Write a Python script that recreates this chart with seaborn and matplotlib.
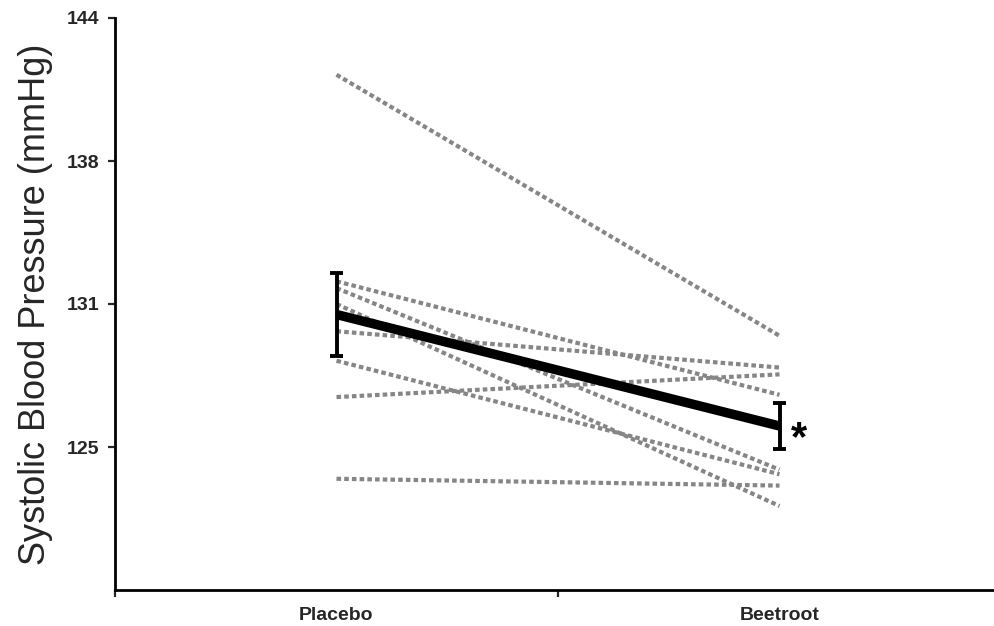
import numpy as np
import pandas as pd
import matplotlib
matplotlib.use("Agg")
import matplotlib.pyplot as plt
import seaborn as sns
from matplotlib.ticker import FixedLocator, FuncFormatter

# Systolic blood pressure (mmHg) per participant under each condition
conditions = ["Placebo", "Beetroot"]
participants = ["S1", "S2", "S3", "S4", "S5", "S6", "S7", "S8"]
placebo_sbp = [141.5, 132.4, 132.1, 131.4, 130.2, 128.9, 127.3, 123.7]
beetroot_sbp = [130.0, 127.4, 124.1, 122.5, 128.6, 123.9, 128.3, 123.4]

y_ticks = [125.1, 131.4, 137.7, 144.0]
y_range = (118.8, 144.0)

df = pd.DataFrame({
    "subject": participants * 2,
    "condition": [conditions[0]] * len(participants) + [conditions[1]] * len(participants),
    "sbp": placebo_sbp + beetroot_sbp,
})

sns.set_style("ticks")
plt.rcParams["font.family"] = ["Liberation Sans", "DejaVu Sans"]

fig = plt.figure(figsize=(9.94, 6.26), dpi=100)
ax = fig.add_axes([115 / 994, 1 - 590 / 626, 886 / 994, (590 - 18) / 626])

# individual participants: grey dotted lines
sns.lineplot(data=df, x="condition", y="sbp", units="subject", estimator=None,
             color="#868686", linewidth=3.0, linestyle=(0, (1.1, 0.75)),
             dash_capstyle="butt", ax=ax, legend=False, sort=False)

# group mean with standard error
sns.pointplot(data=df, x="condition", y="sbp", order=conditions, errorbar="se",
              color="black", markers="", linestyles="-", linewidth=6.8,
              capsize=0.03, err_kws={"linewidth": 2.8, "color": "black"}, ax=ax)
for ln in ax.lines:
    ln.set_solid_capstyle("butt")

ax.text(1.043, 125.45, "*", ha="center", va="center", fontsize=30,
        fontweight="bold", color="black")

ax.set_xlim(-0.5, 1.5)
ax.set_ylim(*y_range)
ax.yaxis.set_major_locator(FixedLocator(y_ticks))
ax.yaxis.set_major_formatter(FuncFormatter(lambda v, p: f"{v:.0f}"))

ax.set_xticks([0, 1])
ax.set_xticklabels(conditions)
ax.set_xticks([-0.5, 0.5, 1.5], minor=True)
ax.tick_params(axis="x", which="major", length=0, pad=12, labelsize=14)
ax.tick_params(axis="x", which="minor", length=5, width=1.6, direction="out")
ax.tick_params(axis="y", length=5, width=1.6, direction="out", pad=6, labelsize=14)
for lab in ax.get_xticklabels() + ax.get_yticklabels():
    lab.set_fontweight("bold")

ax.set_xlabel("")
ax.set_ylabel("Systolic Blood Pressure (mmHg)", fontsize=26, labelpad=10)

for side in ["top", "right"]:
    ax.spines[side].set_visible(False)
for side in ["left", "bottom"]:
    ax.spines[side].set_linewidth(2.0)
    ax.spines[side].set_color("black")

fig.savefig("out.png", dpi=100)
